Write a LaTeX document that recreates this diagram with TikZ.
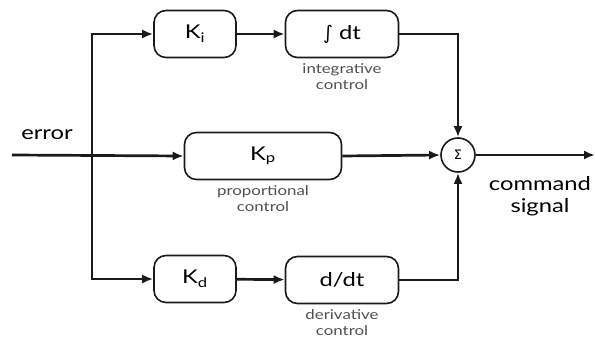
\documentclass[tikz,border=0pt]{standalone}
\usepackage{fontspec}
\setmainfont{Lato}[FakeStretch=1.25]
\newfontfamily\symfont{DejaVu Sans}
\usetikzlibrary{arrows.meta,positioning}
\definecolor{ink}    {HTML}{1A1A1A}
\definecolor{inkgray}{HTML}{505050}
\tikzset{
  gainbox/.style  ={draw=ink, line width=1.6pt, rounded corners=12pt,
                    minimum width=82pt, minimum height=47pt,
                    inner sep=2pt, font=\fontsize{19}{22}\selectfont},
  opbox/.style    ={gainbox, minimum width=113pt},
  sumnode/.style  ={circle, draw=ink, line width=1.6pt, minimum size=34pt,
                    inner sep=0pt, font=\fontsize{13}{14}\selectfont},
  sigline/.style  ={line width=2.7pt, draw=ink, line join=miter},
  sigarr/.style   ={sigline, -{Latex[length=11pt,width=9pt]}},
  caption/.style  ={font=\fontsize{13.5}{16}\selectfont, text=inkgray,
                    align=center, inner sep=1pt},
  siglabel/.style ={font=\fontsize{19}{22}\selectfont, align=center, inner sep=0pt},
}

\begin{document}
\begin{tikzpicture}[x=1pt,y=-1pt]
  \useasboundingbox (0,0) rectangle (595,345);

  \node[gainbox] (ki)  at (195,34)  {K\textsubscript{i}};
  \node[opbox]   (int) at (342,34)  {{\symfont ∫} dt};
  \node[caption,below=4pt of int] (intcap) {integrative\\control};

  \node[gainbox,minimum width=157pt] (kp) at (263,156) {K\textsubscript{p}};
  \node[caption,below=4pt of kp] (kpcap) {proportional\\control};

  \node[gainbox] (kd)  at (195,279) {K\textsubscript{d}};
  \node[opbox]   (der) at (342,280) {d/dt};
  \node[caption,below=4pt of der] (dercap) {derivative\\control};

  \node[sumnode] (sum) at (458,155) {{\symfont Σ}};

  \coordinate (in)    at (12,155);
  \coordinate (split) at (92,155);
  \coordinate (out)   at (595,155);

  \node[siglabel] (err) at (47,135) {error};
  \node[siglabel] (cmd) at (540,196) {command\\signal};

  \draw[sigarr] (in) -- (kp.west);
  \draw[sigarr] (split) |- (ki.west);
  \draw[sigarr] (split) |- (kd.west);
  \draw[sigarr] (ki) -- (int);
  \draw[sigarr] (kd) -- (der);
  \draw[sigarr] (int.east) -| (sum.north);
  \draw[sigarr] (der.east) -| (sum.south);
  \draw[sigarr] (kp.east) -- (sum.west);
  \draw[sigarr] (sum.east) -- (out);
\end{tikzpicture}
\end{document}
